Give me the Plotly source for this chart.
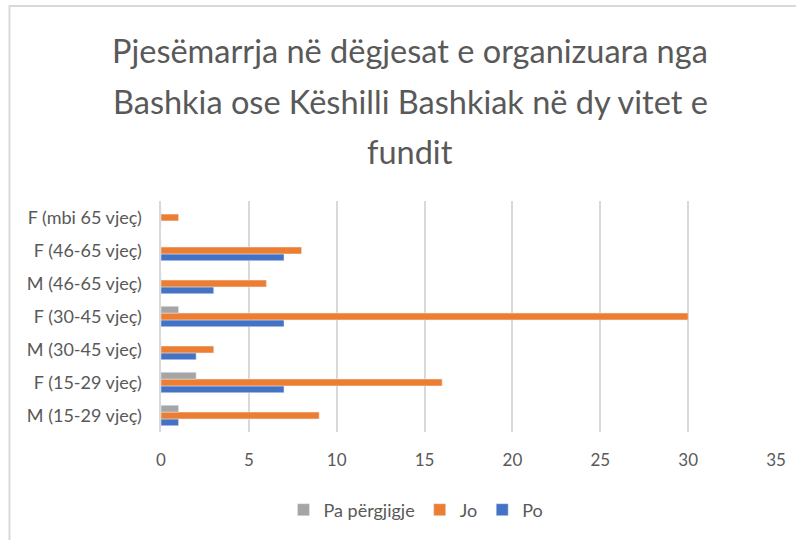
import plotly.graph_objects as go

categories = ["M (15-29 vjeç)", "F (15-29 vjeç)", "M (30-45 vjeç)", "F (30-45 vjeç)",
              "M (46-65 vjeç)", "F (46-65 vjeç)", "F (mbi 65 vjeç)"]
po = [1, 7, 2, 7, 3, 7, 0]
jo = [9, 16, 3, 30, 6, 8, 1]
pa = [1, 2, 0, 1, 0, 0, 0]
x_ticks = [0, 5, 10, 15, 20, 25, 30, 35]

title_lines = ["Pjesëmarrja në dëgjesat e organizuara nga",
               "Bashkia ose Këshilli Bashkiak në dy vitet e",
               "fundit"]

FONT = "Lato"
TXT = "#595959"
L, R, T, B = 161, 20, 201, 108
W, H = 796, 540
PH = H - T - B

def py(ypx):
    return (H - B - ypx) / PH

def px(xpx):
    return (xpx - L) / (W - L - R)

fig = go.Figure()
fig.add_trace(go.Bar(y=categories, x=po, name="Po", orientation="h", marker_color="#4472C4"))
fig.add_trace(go.Bar(y=categories, x=jo, name="Jo", orientation="h", marker_color="#ED7D31"))
fig.add_trace(go.Bar(y=categories, x=pa, name="Pa përgjigje", orientation="h", marker_color="#A5A5A5"))

fig.update_layout(
    width=W, height=H,
    margin=dict(l=L, r=R, t=T, b=B, autoexpand=False),
    paper_bgcolor="white", plot_bgcolor="white",
    barmode="group", bargap=0.38, bargroupgap=0,
    font=dict(family=FONT, color=TXT, size=17),
    xaxis=dict(range=[0, 35], tickvals=x_ticks, showgrid=True, gridcolor="#D9D9D9",
               gridwidth=1.5, zeroline=False, showline=False, ticks="",
               ticklabelstandoff=16,
               tickfont=dict(size=17, color=TXT), automargin=False),
    yaxis=dict(showgrid=False, showline=True, linecolor="#D9D9D9", linewidth=1.5, ticks="",
               ticksuffix="   ", tickfont=dict(size=18, color=TXT), automargin=False),
    legend=dict(orientation="h", x=px(416), xanchor="center", y=py(510), yanchor="middle",
                traceorder="reversed", font=dict(size=18, color=TXT),
                itemwidth=30),
    showlegend=True,
)
for i, (line, ypix) in enumerate(zip(title_lines, [50, 101, 151])):
    fig.add_annotation(text=line, xref="paper", yref="paper", x=px(410), y=py(ypix),
                       xanchor="center", yanchor="middle", showarrow=False,
                       font=dict(family=FONT, size=32.5, color=TXT))
fig.add_shape(type="rect", xref="paper", yref="paper", x0=px(9.5), x1=px(830), y0=py(600), y1=py(6),
              line=dict(color="#D9D9D9", width=2), fillcolor="rgba(0,0,0,0)", layer="below")
fig.write_html("out.html", config={"displayModeBar": False},
               post_script="document.body.style.margin='0';document.body.style.overflow='hidden';")
